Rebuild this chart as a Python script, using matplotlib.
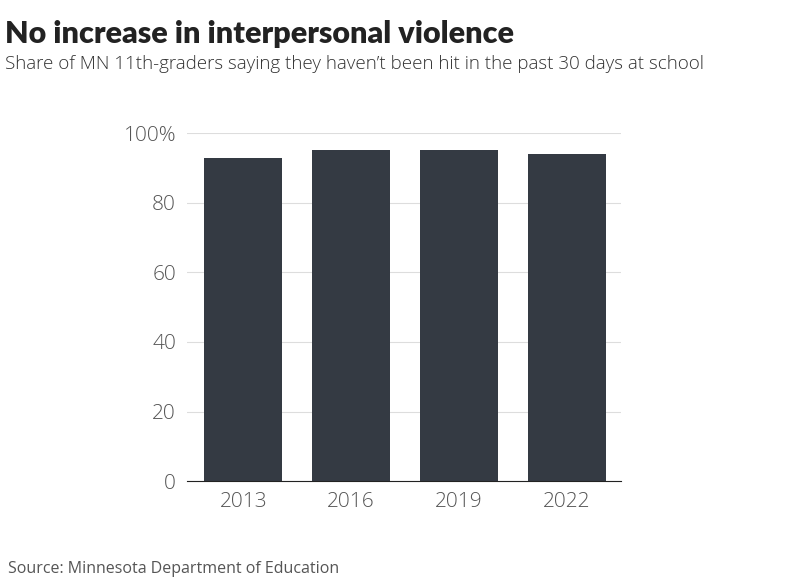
import matplotlib
matplotlib.use("Agg")
import matplotlib.pyplot as plt

years = ["2013", "2016", "2019", "2022"]
values = [92.8, 95.2, 95.2, 94.0]
yticks = [0, 20, 40, 60, 80, 100]
ytick_labels = ["0", "20", "40", "60", "80", "100%"]

fig = plt.figure(figsize=(8, 5.84), dpi=100)
ax = fig.add_axes([0.234, 0.176, 0.542, 0.596])
x = range(len(years))
ax.bar(x, values, width=0.72, color="#343a43", zorder=2)
ax.set_xlim(-0.52, 3.5)
ax.set_ylim(0, 100)
ax.set_yticks(yticks)
ax.set_yticklabels(ytick_labels, fontsize=15, color="#555555", fontfamily="Open Sans", fontweight="light")
ax.set_xticks(list(x))
ax.set_xticklabels(years, fontsize=15, color="#555555", fontfamily="Open Sans", fontweight="light")
ax.grid(axis="y", color="#dddddd", linewidth=0.8, zorder=0)
for s in ["top", "right", "left"]:
    ax.spines[s].set_visible(False)
ax.spines["bottom"].set_color("#222222")
ax.tick_params(axis="y", length=0, pad=8)
ax.tick_params(axis="x", length=0, pad=8)

fig.text(0.006, 0.965, "No increase in interpersonal violence", fontsize=22,
         fontweight="black", color="#222222", va="top", fontfamily="Lato")
fig.text(0.006, 0.905, "Share of MN 11th-graders saying they haven\u2019t been hit in the past 30 days at school",
         fontsize=13.5, color="#333333", va="top", fontfamily="Open Sans", fontweight="light")
fig.text(0.01, 0.012, "Source: Minnesota Department of Education", fontsize=11.5,
         color="#555555", va="bottom", fontfamily="Open Sans")
fig.savefig("out.png", dpi=100)
